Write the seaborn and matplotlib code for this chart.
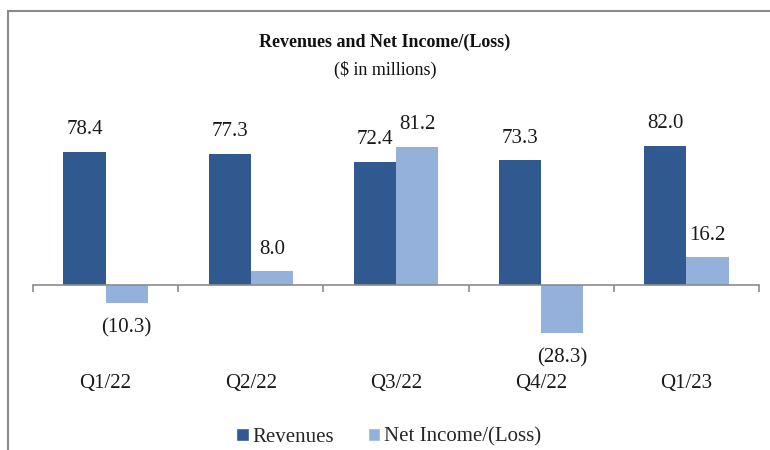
import matplotlib.pyplot as plt
import numpy as np
import pandas as pd
import seaborn as sns
from matplotlib.patches import Rectangle, Patch

quarters = ["Q1/22", "Q2/22", "Q3/22", "Q4/22", "Q1/23"]
revenues = [78.4, 77.3, 72.4, 73.3, 82.0]
net_income = [-10.3, 8.0, 81.2, -28.3, 16.2]
series = ["Revenues", "Net Income/(Loss)"]
colors = ["#30598F", "#93B1DB"]

df = pd.DataFrame({
    "quarter": quarters * 2,
    "value": revenues + net_income,
    "series": [series[0]] * len(quarters) + [series[1]] * len(quarters),
})

sns.set_theme(style="white")
plt.rcParams["font.family"] = ["Liberation Serif", "DejaVu Serif"]

fig = plt.figure(figsize=(7.7, 4.5), dpi=100)
ax = fig.add_axes([33 / 770, 1 - 370 / 450, 726 / 770, 270 / 450])

sns.barplot(data=df, x="quarter", y="value", hue="series", order=quarters,
            hue_order=series, palette=colors, width=0.58, saturation=1,
            linewidth=0, legend=False, ax=ax)

ax.set_xlim(-0.5, len(quarters) - 0.5)
ax.set_ylim(-50, 108.8)
ax.set_xlabel("")
ax.set_ylabel("")
ax.set_yticks([])
for side in ["top", "right", "left"]:
    ax.spines[side].set_visible(False)
ax.spines["bottom"].set_position(("data", 0))
ax.spines["bottom"].set_color("#8c8c8c")
ax.spines["bottom"].set_linewidth(1.2)

# tick marks between the quarter groups, labels at group centres
ax.set_xticks(np.arange(len(quarters) + 1) - 0.5)
ax.set_xticklabels([])
ax.tick_params(axis="x", which="major", direction="out", length=5, width=1.2,
               color="#8c8c8c", bottom=True)
ax.set_xticks(np.arange(len(quarters)), minor=True)
ax.set_xticklabels(quarters, minor=True, fontsize=15)
ax.tick_params(axis="x", which="minor", length=0, pad=64, labelcolor="#1a1a1a")

for container in ax.containers:
    for bar in container:
        h = bar.get_height()
        xc = bar.get_x() + bar.get_width() / 2
        if h >= 0:
            ax.annotate(f"{h:.1f}", (xc, h), xytext=(0, 16), textcoords="offset points",
                        ha="center", va="center", fontsize=15, color="#1a1a1a")
        else:
            ax.annotate(f"({abs(h):.1f})", (xc, h), xytext=(0, -18), textcoords="offset points",
                        ha="center", va="center", fontsize=15, color="#1a1a1a")

fig.text(0.5, 1 - 42 / 450, "Revenues and Net Income/(Loss)", ha="center", va="center",
         fontsize=13, fontweight="bold", color="#111111")
fig.text(0.5, 1 - 70 / 450, "($ in millions)", ha="center", va="center",
         fontsize=13, color="#111111")

handles = [Patch(facecolor=c, label=s) for c, s in zip(colors, series)]
fig.legend(handles=handles, loc="center", bbox_to_anchor=(0.505, 1 - 437 / 450), ncol=2,
           frameon=False, fontsize=15, handlelength=0.6, handleheight=0.6,
           handletextpad=0.2, columnspacing=1.6)

fig.add_artist(Rectangle((8 / 770, -0.1), 1.2, 1 - 11 / 450 + 0.1, transform=fig.transFigure,
                         fill=False, edgecolor="#8a8a8a", linewidth=1.5))

fig.savefig("out.png", dpi=100)
